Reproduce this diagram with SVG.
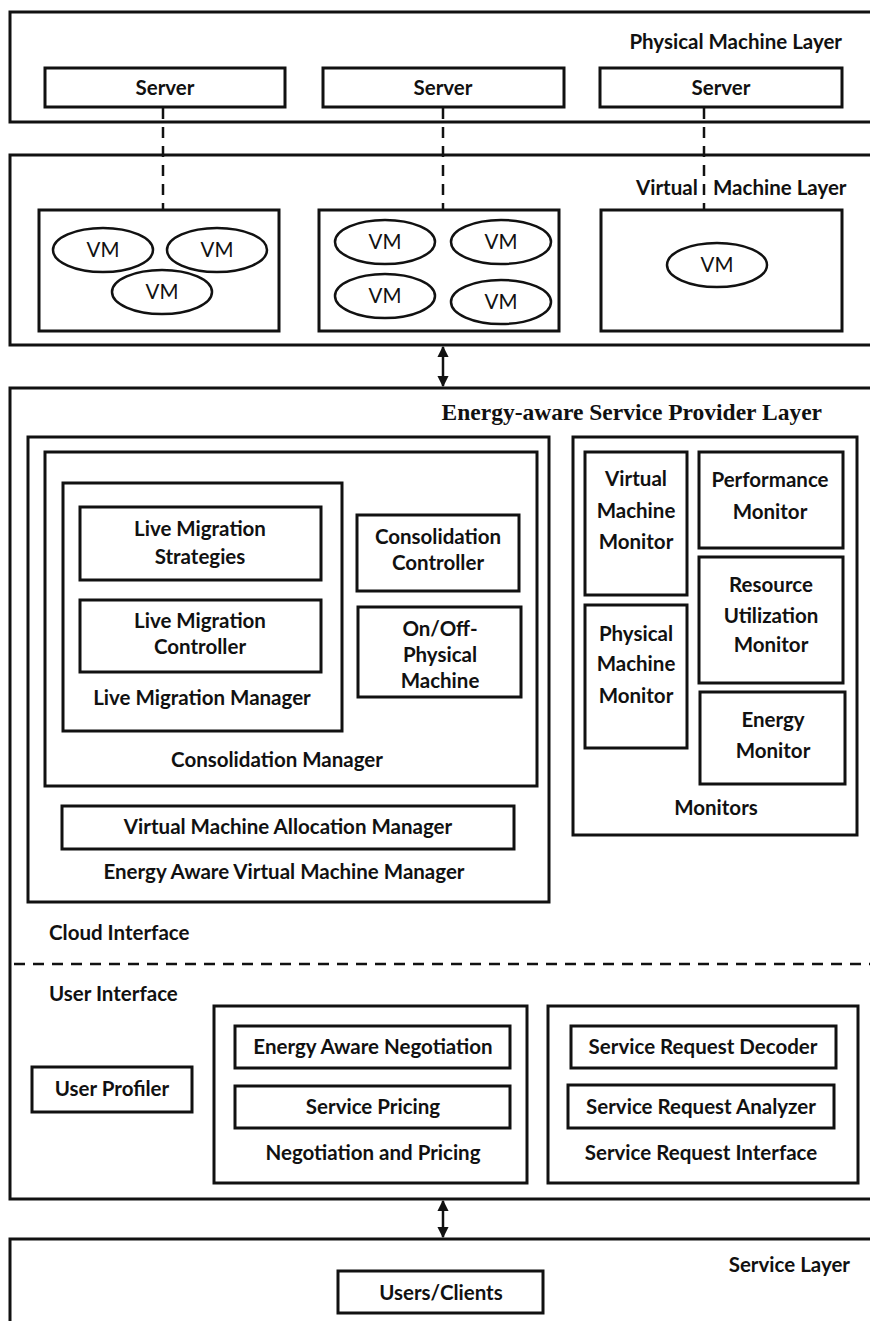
<svg xmlns="http://www.w3.org/2000/svg" width="870" height="1321" viewBox="0 0 870 1321">
<style>
.layer{fill:#fff;stroke:#111;stroke-width:3}
.box{fill:none;stroke:#111;stroke-width:3}
.vm{fill:#fff;stroke:#111;stroke-width:2.5}
.t{font-family:Lato,"Open Sans",sans-serif;font-weight:700;font-size:20.5px;fill:#111;text-anchor:middle}
.l{text-anchor:start}
.r{text-anchor:end}
.v{font-weight:400}
.serif{font-family:"Liberation Serif","Times New Roman",serif;font-weight:700;font-size:23.5px;fill:#111}
.dash{stroke:#111;stroke-width:2.5;stroke-dasharray:11 8;fill:none}
.arr{stroke:#111;stroke-width:2.5;fill:none}
</style>
<defs>
<marker id="ah" viewBox="0 0 10 10" refX="9" refY="5" markerWidth="4.5" markerHeight="4.5" orient="auto-start-reverse" markerUnits="strokeWidth">
<path d="M0,0 L10,5 L0,10 z" fill="#111"/>
</marker>
</defs>
<rect width="870" height="1321" fill="#fff"/>

<!-- Physical Machine Layer -->
<g id="physical-layer">
<rect class="layer" x="10" y="12" width="870" height="110"/>
<text class="t r" x="842" y="49">Physical Machine Layer</text>
</g>
<g id="server1"><rect class="box" x="45" y="68" width="240" height="39"/><text class="t" x="165" y="95">Server</text></g>
<g id="server2"><rect class="box" x="323" y="68" width="241" height="39"/><text class="t" x="443" y="95">Server</text></g>
<g id="server3"><rect class="box" x="600" y="68" width="242" height="39"/><text class="t" x="721" y="95">Server</text></g>

<!-- Virtual Machine Layer -->
<g id="virtual-layer">
<rect class="layer" x="10" y="155" width="870" height="190"/>
<text class="t l" x="636" y="195">Virtual</text>
<text class="t l" x="713" y="195">Machine Layer</text>
</g>
<g id="vmhost1">
<rect class="box" x="39" y="210" width="240" height="121"/>
<ellipse class="vm" cx="103" cy="250" rx="50" ry="22"/><text class="t v" x="103" y="257">VM</text>
<ellipse class="vm" cx="217" cy="250" rx="50" ry="22"/><text class="t v" x="217" y="257">VM</text>
<ellipse class="vm" cx="162" cy="292" rx="50" ry="22"/><text class="t v" x="162" y="299">VM</text>
</g>
<g id="vmhost2">
<rect class="box" x="319" y="210" width="240" height="121"/>
<ellipse class="vm" cx="385" cy="242" rx="50" ry="22"/><text class="t v" x="385" y="249">VM</text>
<ellipse class="vm" cx="501" cy="242" rx="50" ry="22"/><text class="t v" x="501" y="249">VM</text>
<ellipse class="vm" cx="385" cy="296" rx="50" ry="22"/><text class="t v" x="385" y="303">VM</text>
<ellipse class="vm" cx="501" cy="302" rx="50" ry="22"/><text class="t v" x="501" y="309">VM</text>
</g>
<g id="vmhost3">
<rect class="box" x="601" y="210" width="241" height="121"/>
<ellipse class="vm" cx="717" cy="265" rx="50" ry="22"/><text class="t v" x="717" y="272">VM</text>
</g>

<!-- Energy-aware Service Provider Layer -->
<g id="provider-layer">
<rect class="layer" x="10" y="388" width="870" height="811"/>
<text class="serif" x="822" y="420" text-anchor="end">Energy-aware Service Provider Layer</text>
<text class="t l" x="49" y="940">Cloud Interface</text>
<text class="t l" x="49" y="1001">User Interface</text>
</g>
<g id="eavmm">
<rect class="box" x="28" y="437" width="521" height="465"/>
<text class="t" x="284" y="879">Energy Aware Virtual Machine Manager</text>
</g>
<g id="consolidation-manager">
<rect class="box" x="45" y="452" width="492" height="334"/>
<text class="t" x="277" y="767">Consolidation Manager</text>
</g>
<g id="live-migration-manager">
<rect class="box" x="63" y="483" width="279" height="248"/>
<text class="t" x="202" y="705">Live Migration Manager</text>
</g>
<g id="lm-strategies">
<rect class="box" x="80" y="507" width="241" height="73"/>
<text class="t" x="200" y="536">Live Migration</text>
<text class="t" x="200" y="564">Strategies</text>
</g>
<g id="lm-controller">
<rect class="box" x="80" y="600" width="241" height="72"/>
<text class="t" x="200" y="628">Live Migration</text>
<text class="t" x="200" y="654">Controller</text>
</g>
<g id="consolidation-controller">
<rect class="box" x="357" y="515" width="162" height="76"/>
<text class="t" x="438" y="544">Consolidation</text>
<text class="t" x="438" y="570">Controller</text>
</g>
<g id="onoff">
<rect class="box" x="358" y="607" width="163" height="90"/>
<text class="t" x="440" y="636">On/Off-</text>
<text class="t" x="440" y="662">Physical</text>
<text class="t" x="440" y="688">Machine</text>
</g>
<g id="vm-allocation-manager">
<rect class="box" x="62" y="806" width="452" height="43"/>
<text class="t" x="288" y="834">Virtual Machine Allocation Manager</text>
</g>

<g id="monitors">
<rect class="box" x="573" y="437" width="284" height="398"/>
<text class="t" x="716" y="815">Monitors</text>
</g>
<g id="vm-monitor">
<rect class="box" x="585" y="452" width="102" height="143"/>
<text class="t" x="636" y="486">Virtual</text>
<text class="t" x="636" y="518">Machine</text>
<text class="t" x="636" y="549">Monitor</text>
</g>
<g id="performance-monitor">
<rect class="box" x="699" y="452" width="144" height="96"/>
<text class="t" x="770" y="487">Performance</text>
<text class="t" x="770" y="519">Monitor</text>
</g>
<g id="resource-monitor">
<rect class="box" x="699" y="557" width="144" height="126"/>
<text class="t" x="771" y="592">Resource</text>
<text class="t" x="771" y="623">Utilization</text>
<text class="t" x="771" y="652">Monitor</text>
</g>
<g id="pm-monitor">
<rect class="box" x="585" y="605" width="102" height="143"/>
<text class="t" x="636" y="641">Physical</text>
<text class="t" x="636" y="671">Machine</text>
<text class="t" x="636" y="703">Monitor</text>
</g>
<g id="energy-monitor">
<rect class="box" x="700" y="692" width="145" height="92"/>
<text class="t" x="773" y="727">Energy</text>
<text class="t" x="773" y="758">Monitor</text>
</g>

<g id="user-profiler">
<rect class="box" x="32" y="1067" width="160" height="45"/>
<text class="t" x="112" y="1096">User Profiler</text>
</g>
<g id="negotiation-pricing">
<rect class="box" x="214" y="1006" width="313" height="177"/>
<text class="t" x="373" y="1160">Negotiation and Pricing</text>
</g>
<g id="energy-negotiation">
<rect class="box" x="235" y="1026" width="275" height="42"/>
<text class="t" x="373" y="1054">Energy Aware Negotiation</text>
</g>
<g id="service-pricing">
<rect class="box" x="235" y="1086" width="275" height="42"/>
<text class="t" x="373" y="1114">Service Pricing</text>
</g>
<g id="service-request-interface">
<rect class="box" x="548" y="1006" width="310" height="177"/>
<text class="t" x="701" y="1160">Service Request Interface</text>
</g>
<g id="sr-decoder">
<rect class="box" x="571" y="1026" width="265" height="42"/>
<text class="t" x="703" y="1054">Service Request Decoder</text>
</g>
<g id="sr-analyzer">
<rect class="box" x="568" y="1085" width="266" height="43"/>
<text class="t" x="701" y="1114">Service Request Analyzer</text>
</g>

<!-- Service Layer -->
<g id="service-layer">
<rect class="layer" x="10" y="1239" width="870" height="100"/>
<text class="t r" x="850" y="1272">Service Layer</text>
</g>
<g id="users-clients">
<rect class="box" x="338" y="1271" width="205" height="42"/>
<text class="t" x="441" y="1300">Users/Clients</text>
</g>

<!-- connectors -->
<g id="connectors">
<line class="dash" x1="163" y1="108" x2="163" y2="209"/>
<line class="dash" x1="443" y1="108" x2="443" y2="209"/>
<line class="dash" x1="704" y1="108" x2="704" y2="209"/>
<line class="dash" x1="14" y1="964" x2="870" y2="964"/>
<line class="arr" x1="443" y1="347" x2="443" y2="386" marker-start="url(#ah)" marker-end="url(#ah)"/>
<line class="arr" x1="443" y1="1201" x2="443" y2="1237" marker-start="url(#ah)" marker-end="url(#ah)"/>
</g>
</svg>
